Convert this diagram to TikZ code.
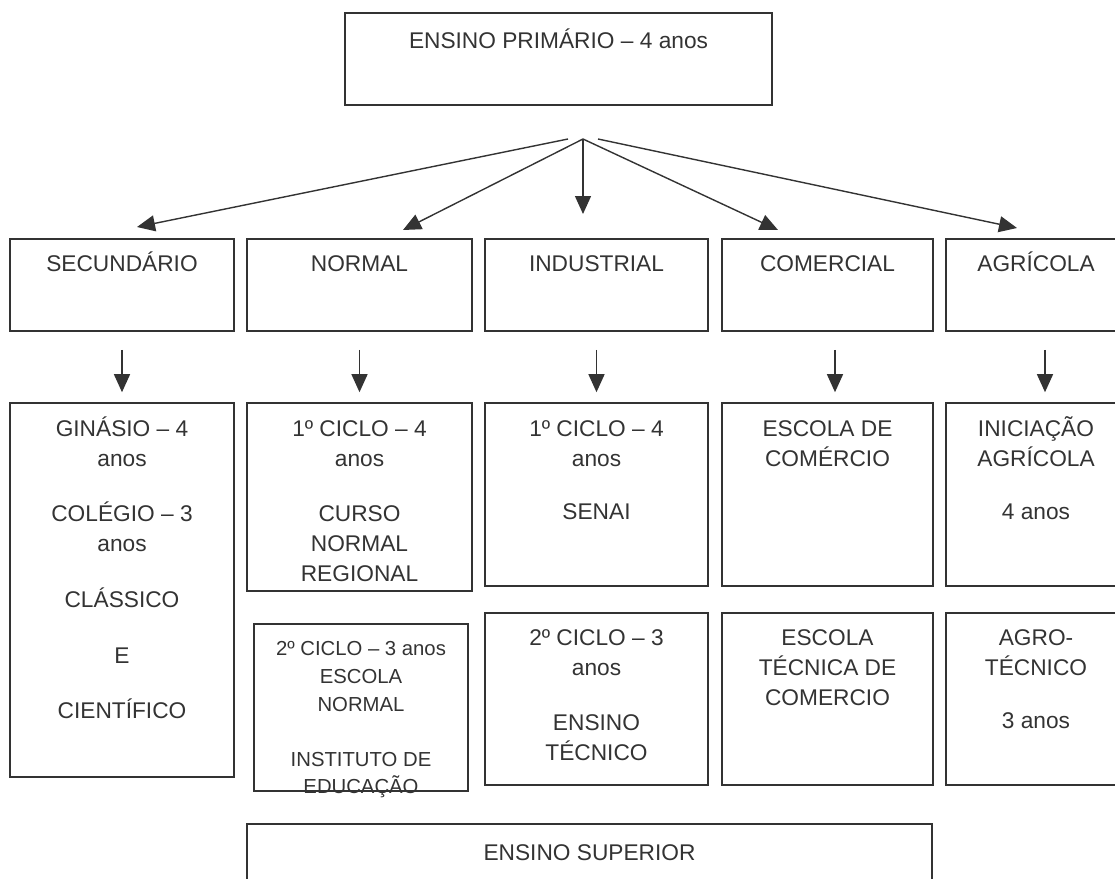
\documentclass[tikz,border=0pt]{standalone}
\usepackage{fontspec}
\setmainfont{Liberation Sans}
\usepackage{xcolor}
\usetikzlibrary{arrows.meta}
\definecolor{ink}{HTML}{333333}
\tikzstyle{box} = [rectangle, draw=ink, line width=1.6pt, inner sep=0pt]
\tikzstyle{txt} = [align=center, anchor=north, inner sep=0pt, text=ink, font=\fontsize{22.7}{30}\selectfont]
\tikzstyle{smalltxt} = [txt, font=\fontsize{20.3}{27.6}\selectfont]
\newcommand{\lnstrut}{\rule{0pt}{24pt}}

\begin{document}
\begin{tikzpicture}[x=1pt,y=-1pt,->,>={Triangle[length=18pt,width=16pt]},line width=1.4pt,color=ink]
  \useasboundingbox (0,0) rectangle (1115,878);

  % primario
  \node[box, minimum width=427pt, minimum height=92pt] (prim) at (558.5,59) {};
  \node[txt] (primT) at ([yshift=-12pt]prim.north) {\lnstrut ENSINO PRIMÁRIO – 4 anos};

  % ramos
  \node[box, minimum width=224pt, minimum height=92pt] (sec) at (122,285) {};
  \node[box, minimum width=225pt, minimum height=92pt] (nor) at (359.5,285) {};
  \node[box, minimum width=223pt, minimum height=92pt] (ind) at (596.5,285) {};
  \node[box, minimum width=211pt, minimum height=92pt] (com) at (827.5,285) {};
  \node[box, minimum width=180pt, minimum height=92pt] (agr) at (1036,285) {};
  \node[txt] (secT) at ([yshift=-9pt]sec.north) {\lnstrut SECUNDÁRIO};
  \node[txt] (norT) at ([yshift=-9pt]nor.north) {\lnstrut NORMAL};
  \node[txt] (indT) at ([yshift=-9pt]ind.north) {\lnstrut INDUSTRIAL};
  \node[txt] (comT) at ([yshift=-9pt]com.north) {\lnstrut COMERCIAL};
  \node[txt] (agrT) at ([yshift=-9pt]agr.north) {\lnstrut AGRÍCOLA};

  % ciclos
  \node[box, minimum width=224pt, minimum height=374pt] (gin) at (122,590) {};
  \node[box, minimum width=225pt, minimum height=188pt] (norA) at (359.5,497) {};
  \node[box, minimum width=214pt, minimum height=167pt] (norB) at (361,707.5) {};
  \node[box, minimum width=223pt, minimum height=183pt] (indA) at (596.5,494.5) {};
  \node[box, minimum width=223pt, minimum height=172pt] (indB) at (596.5,699) {};
  \node[box, minimum width=211pt, minimum height=183pt] (comA) at (827.5,494.5) {};
  \node[box, minimum width=211pt, minimum height=172pt] (comB) at (827.5,699) {};
  \node[box, minimum width=180pt, minimum height=183pt] (agrA) at (1036,494.5) {};
  \node[box, minimum width=180pt, minimum height=172pt] (agrB) at (1036,699) {};

  \node[txt] (ginT) at ([yshift=-10pt]gin.north)
    {\lnstrut GINÁSIO – 4\\anos\\[25pt]COLÉGIO – 3\\anos\\[26pt]CLÁSSICO\\[26pt]E\\[25pt]CIENTÍFICO};
  \node[txt] (norAT) at ([yshift=-10pt]norA.north)
    {\lnstrut 1º CICLO – 4\\anos\\[25pt]CURSO\\NORMAL\\REGIONAL};
  \node[smalltxt] (norBT) at ([yshift=-8pt]norB.north)
    {\lnstrut 2º CICLO – 3 anos\\ESCOLA\\NORMAL\\[27.6pt]INSTITUTO DE\\EDUCAÇÃO};
  \node[txt] (indAT) at ([yshift=-10pt]indA.north) {\lnstrut 1º CICLO – 4\\anos\\[23pt]SENAI};
  \node[txt] (indBT) at ([yshift=-9pt]indB.north) {\lnstrut 2º CICLO – 3\\anos\\[25pt]ENSINO\\TÉCNICO};
  \node[txt] (comAT) at ([yshift=-10pt]comA.north) {\lnstrut ESCOLA DE\\COMÉRCIO};
  \node[txt] (comBT) at ([yshift=-9pt]comB.north) {\lnstrut ESCOLA\\TÉCNICA DE\\COMERCIO};
  \node[txt] (agrAT) at ([yshift=-10pt]agrA.north) {\lnstrut INICIAÇÃO\\AGRÍCOLA\\[23pt]4 anos};
  \node[txt] (agrBT) at ([yshift=-9pt]agrB.north) {\lnstrut AGRO-\\TÉCNICO\\[23pt]3 anos};

  % superior
  \node[box, minimum width=685pt, minimum height=76pt] (sup) at (589.5,862) {};
  \node[txt] (supT) at ([yshift=-13pt]sup.north) {\lnstrut ENSINO SUPERIOR};

  % leque
  \coordinate (fan) at (583,139);
  \coordinate (fanL) at (568,139);
  \coordinate (fanR) at (598,139);
  \coordinate (tipS) at (137,227);
  \coordinate (tipN) at (403,230);
  \coordinate (tipI) at (583,214);
  \coordinate (tipC) at (778,230);
  \coordinate (tipA) at (1017,228);

  \path (fanL) edge (tipS);
  \path (fan) edge (tipN);
  \path (fan) edge (tipI);
  \path (fan) edge (tipC);
  \path (fanR) edge (tipA);

  \path ([yshift=-18pt]sec.south) edge ([yshift=10pt]gin.north);
  \path ([yshift=-18pt]nor.south) edge ([yshift=10pt]norA.north);
  \path ([yshift=-18pt]ind.south) edge ([yshift=10pt]indA.north);
  \path ([xshift=7.5pt,yshift=-18pt]com.south) edge ([xshift=7.5pt,yshift=10pt]comA.north);
  \path ([xshift=9pt,yshift=-18pt]agr.south) edge ([xshift=9pt,yshift=10pt]agrA.north);
\end{tikzpicture}
\end{document}
